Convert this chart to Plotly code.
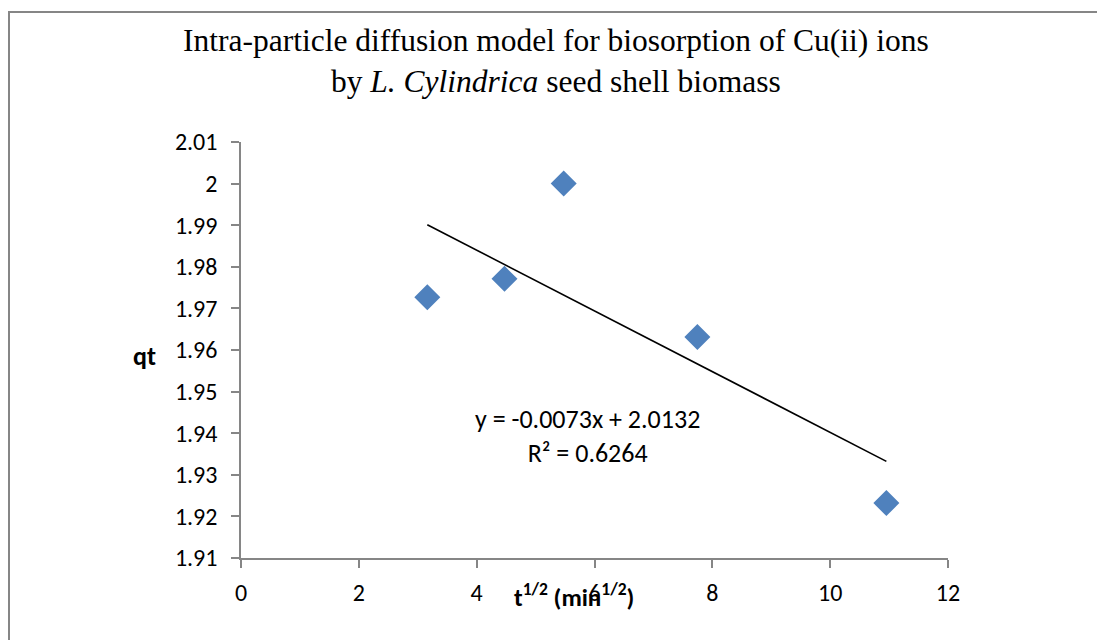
import plotly.graph_objects as go

# Data
t_sqrt = [3.162, 4.472, 5.477, 7.746, 10.954]
qt = [1.9727, 1.9771, 2.0000, 1.9631, 1.9232]
slope = -0.0073
intercept = 2.0132
r2 = 0.6264
x_ticks = [0, 2, 4, 6, 8, 10, 12]
y_ticks = [1.91, 1.92, 1.93, 1.94, 1.95, 1.96, 1.97, 1.98, 1.99, 2.00, 2.01]
y_tick_labels = ["1.91", "1.92", "1.93", "1.94", "1.95", "1.96", "1.97", "1.98", "1.99", "2", "2.01"]

OFF = 8  # page body margin
W, H = 1105 - OFF, 640 - OFF
L, R, T, B = 241 - OFF, 948 - OFF, 142 - OFF, 558 - OFF

fit_x = [min(t_sqrt), max(t_sqrt)]
fit_y = [slope * x + intercept for x in fit_x]

SANS = "Carlito, Liberation Sans Narrow, Liberation Sans, Arial, sans-serif"

fig = go.Figure()
fig.add_trace(go.Scatter(x=fit_x, y=fit_y, mode="lines",
                         line=dict(color="black", width=1.6), showlegend=False, hoverinfo="skip"))
fig.add_trace(go.Scatter(x=t_sqrt, y=qt, mode="markers",
                         marker=dict(symbol="diamond", size=20, color="#4F81BD",
                                     line=dict(width=0)), showlegend=False))

tickfont = dict(family=SANS, size=24, color="black")

fig.update_xaxes(range=[0, 12], tickvals=x_ticks, showgrid=False, zeroline=False,
                 showline=True, linecolor="#868686", linewidth=1.5,
                 ticks="outside", ticklen=8, tickcolor="#868686", tickwidth=1.5,
                 tickfont=tickfont, ticklabelstandoff=4)
fig.update_yaxes(range=[1.91, 2.01], tickvals=y_ticks, ticktext=y_tick_labels,
                 showgrid=False, zeroline=False,
                 showline=True, linecolor="#868686", linewidth=1.5,
                 ticks="outside", ticklen=8, tickcolor="#868686", tickwidth=1.5,
                 tickfont=tickfont, ticklabelstandoff=9)

def px2x(px):
    return (px - OFF - L) / (R - L)

def px2y(py):
    return (B - (py - OFF)) / (B - T)

annots = [
    dict(text="Intra-particle diffusion model for biosorption of Cu(ii) ions<br>by <i>L. Cylindrica</i> seed shell biomass",
         x=px2x(556), y=px2y(61), xref="paper", yref="paper", showarrow=False,
         font=dict(family="Liberation Serif, Times New Roman, serif", size=31.5, color="black"),
         xanchor="center", yanchor="middle", align="center"),
    dict(text="<b>qt</b>", x=px2x(158), y=px2y(356), xref="paper", yref="paper", showarrow=False,
         font=dict(family=SANS, size=26, color="black"),
         xanchor="right", yanchor="middle"),
    dict(text="<b>t<sup>1/2</sup> (min<sup>1/2</sup>)</b>", x=px2x(574), y=px2y(595), xref="paper", yref="paper",
         showarrow=False, font=dict(family=SANS, size=25, color="black"),
         xanchor="center", yanchor="middle"),
    dict(text=f"y = {slope}x + {intercept}<br>R² = {r2}", x=px2x(587), y=px2y(436), xref="paper", yref="paper",
         showarrow=False, font=dict(family=SANS, size=26, color="black"),
         xanchor="center", yanchor="middle", align="center"),
]

shapes = [
    dict(type="rect", xref="paper", yref="paper",
         x0=px2x(9), x1=px2x(1130), y0=px2y(680), y1=px2y(12),
         line=dict(color="#868686", width=2), fillcolor="rgba(0,0,0,0)", layer="below"),
]

fig.update_layout(width=W, height=H, margin=dict(l=L, r=W - R, t=T, b=H - B),
                  plot_bgcolor="white", paper_bgcolor="white",
                  annotations=annots, shapes=shapes)

fig.write_html("out.html")
